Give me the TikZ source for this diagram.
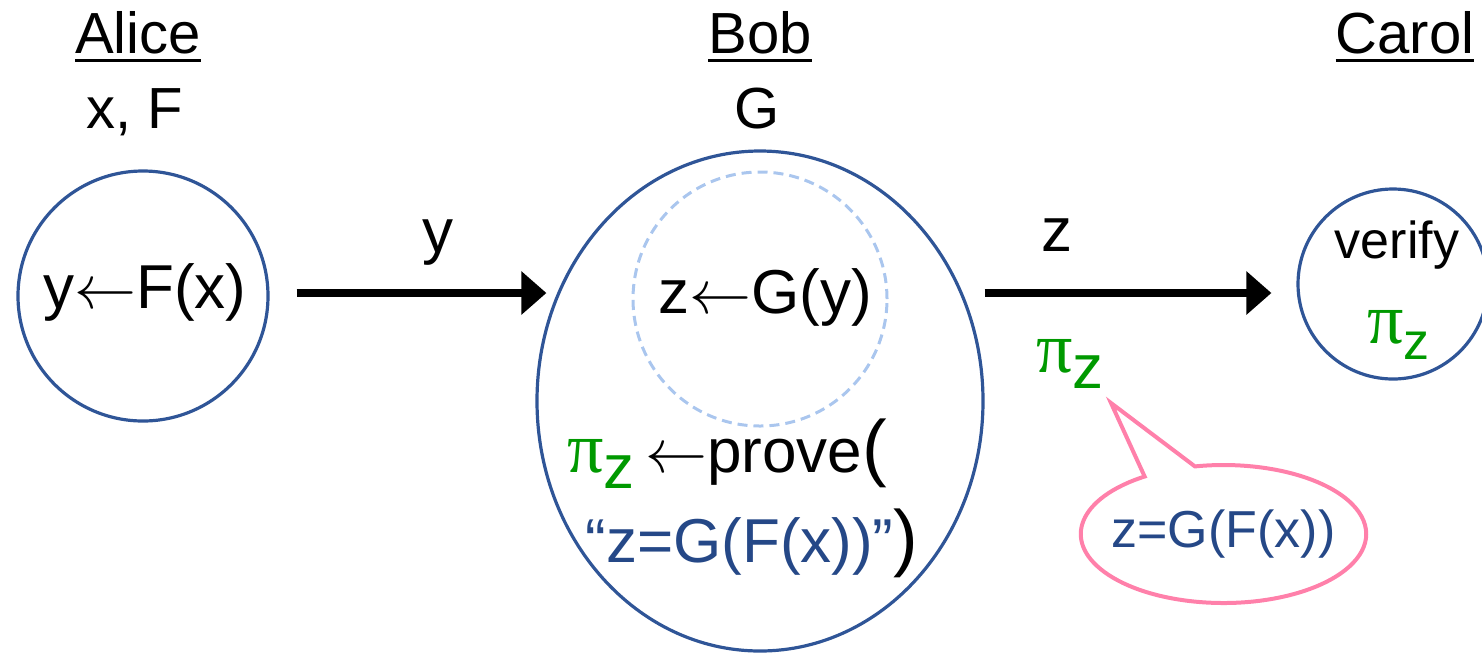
\documentclass[tikz,border=0pt]{standalone}
\usepackage{fix-cm}
\usepackage{fontspec}
\setmainfont{Liberation Sans}
\newfontfamily\pifont{Liberation Serif}
\usepackage{tikz}
\usetikzlibrary{positioning, arrows.meta, calc, shapes.geometric, shapes.callouts}

\definecolor{lineblue}{RGB}{47,85,151}
\definecolor{textblue}{RGB}{37,72,135}
\definecolor{pigreen}{RGB}{0,153,0}
\definecolor{dashblue}{RGB}{170,198,238}
\definecolor{calloutpink}{RGB}{255,128,170}

\newcommand{\bigtxt}{\fontsize{31}{37}\selectfont}
\newcommand{\midtxt}{\fontsize{26}{31}\selectfont}
\newcommand{\piz}{{\pifont\fontsize{36}{40}\selectfont π}\raisebox{-8pt}{z}}
\newcommand{\bigparen}[1]{{\fontsize{37}{40}\selectfont #1}}
\newcommand{\ulname}[1]{\setbox0\hbox{#1}\rlap{\rule[-4.5pt]{\wd0}{1.5pt}}\box0}

\tikzset{
  party/.style  = {draw=lineblue, line width=1.6pt, circle, inner sep=0pt},
  hdr/.style    = {font=\fontsize{29}{35}\selectfont, anchor=base, inner sep=0pt},
  lbl/.style    = {font=\bigtxt, anchor=base, inner sep=0pt},
  bigarr/.style = {-{Triangle[length=12.5pt, width=21pt]}, line width=4pt},
}

\begin{document}
\begin{tikzpicture}[x=0.5pt, y=-0.5pt]
  \useasboundingbox (0,0) rectangle (1482,655);

  % ---- headers ----
  \node[hdr] (alicename) at (138,53) {\ulname{Alice}};
  \node[hdr] (aliceknows) at (135,128) {x, F};
  \node[hdr] (bobname) at (760,53) {\ulname{Bob}};
  \node[hdr] (bobknows) at (757,128) {G};
  \node[hdr] (carolname) at (1405,53) {\ulname{Carol}};

  % ---- parties ----
  \node[party, minimum size=125pt] (alice) at (143,296) {};
  \node[lbl] (alicestep) at (145,308) {y$\leftarrow$F(x)};

  \node[party, ellipse, minimum width=223pt, minimum height=250pt] (bob) at (760,401) {};
  \node[circle, draw=dashblue, line width=1.5pt, dash pattern=on 5pt off 3pt,
        minimum size=127pt, inner sep=0pt] (bobinner) at (760,299) {};
  \node[lbl] (bobstep) at (765,313) {z$\leftarrow$G(y)};
  \node[lbl, anchor=base west] (bobprove) at (567,472)
    {{\color{pigreen}\piz}\,$\leftarrow$prove\bigparen{(}};
  \node[lbl, anchor=base west] (bobclaim) at (585,562)
    {{\color{textblue}“z=G(F(x))”}\bigparen{)}};

  \node[party, minimum size=95pt] (carol) at (1393,284) {};
  \node[hdr, font=\midtxt] (carolstep) at (1397,258) {verify};
  \node[lbl, anchor=base west, font=\midtxt, text=pigreen] (carolpi) at (1367,343) {\piz};

  % ---- messages ----
  \draw[bigarr] ([xshift=13.5pt]alice.east |- 0,293) -- ([xshift=5.5pt]bob.west |- 0,293);
  \draw[bigarr] (bob.east |- 0,293) -- ([xshift=-12.5pt]carol.west |- 0,293);
  \node[lbl] (msgy) at (438,252) {y};
  \node[lbl] (msgz) at (1057,251) {z};
  \node[lbl, anchor=base west, text=pigreen] (msgpi) at (1036,372) {\piz};

  % ---- callout ----
  \coordinate (tip) at (1111,403);
  \node[ellipse callout, draw=calloutpink, line width=2pt, inner xsep=-5.5pt, inner ysep=0pt,
        minimum width=141.5pt, minimum height=69pt, callout pointer arc=22,
        callout absolute pointer={(tip)}, font=\midtxt, text=textblue]
    (claim) at (1223.5,534) {z=G(F(x))};
\end{tikzpicture}
\end{document}
